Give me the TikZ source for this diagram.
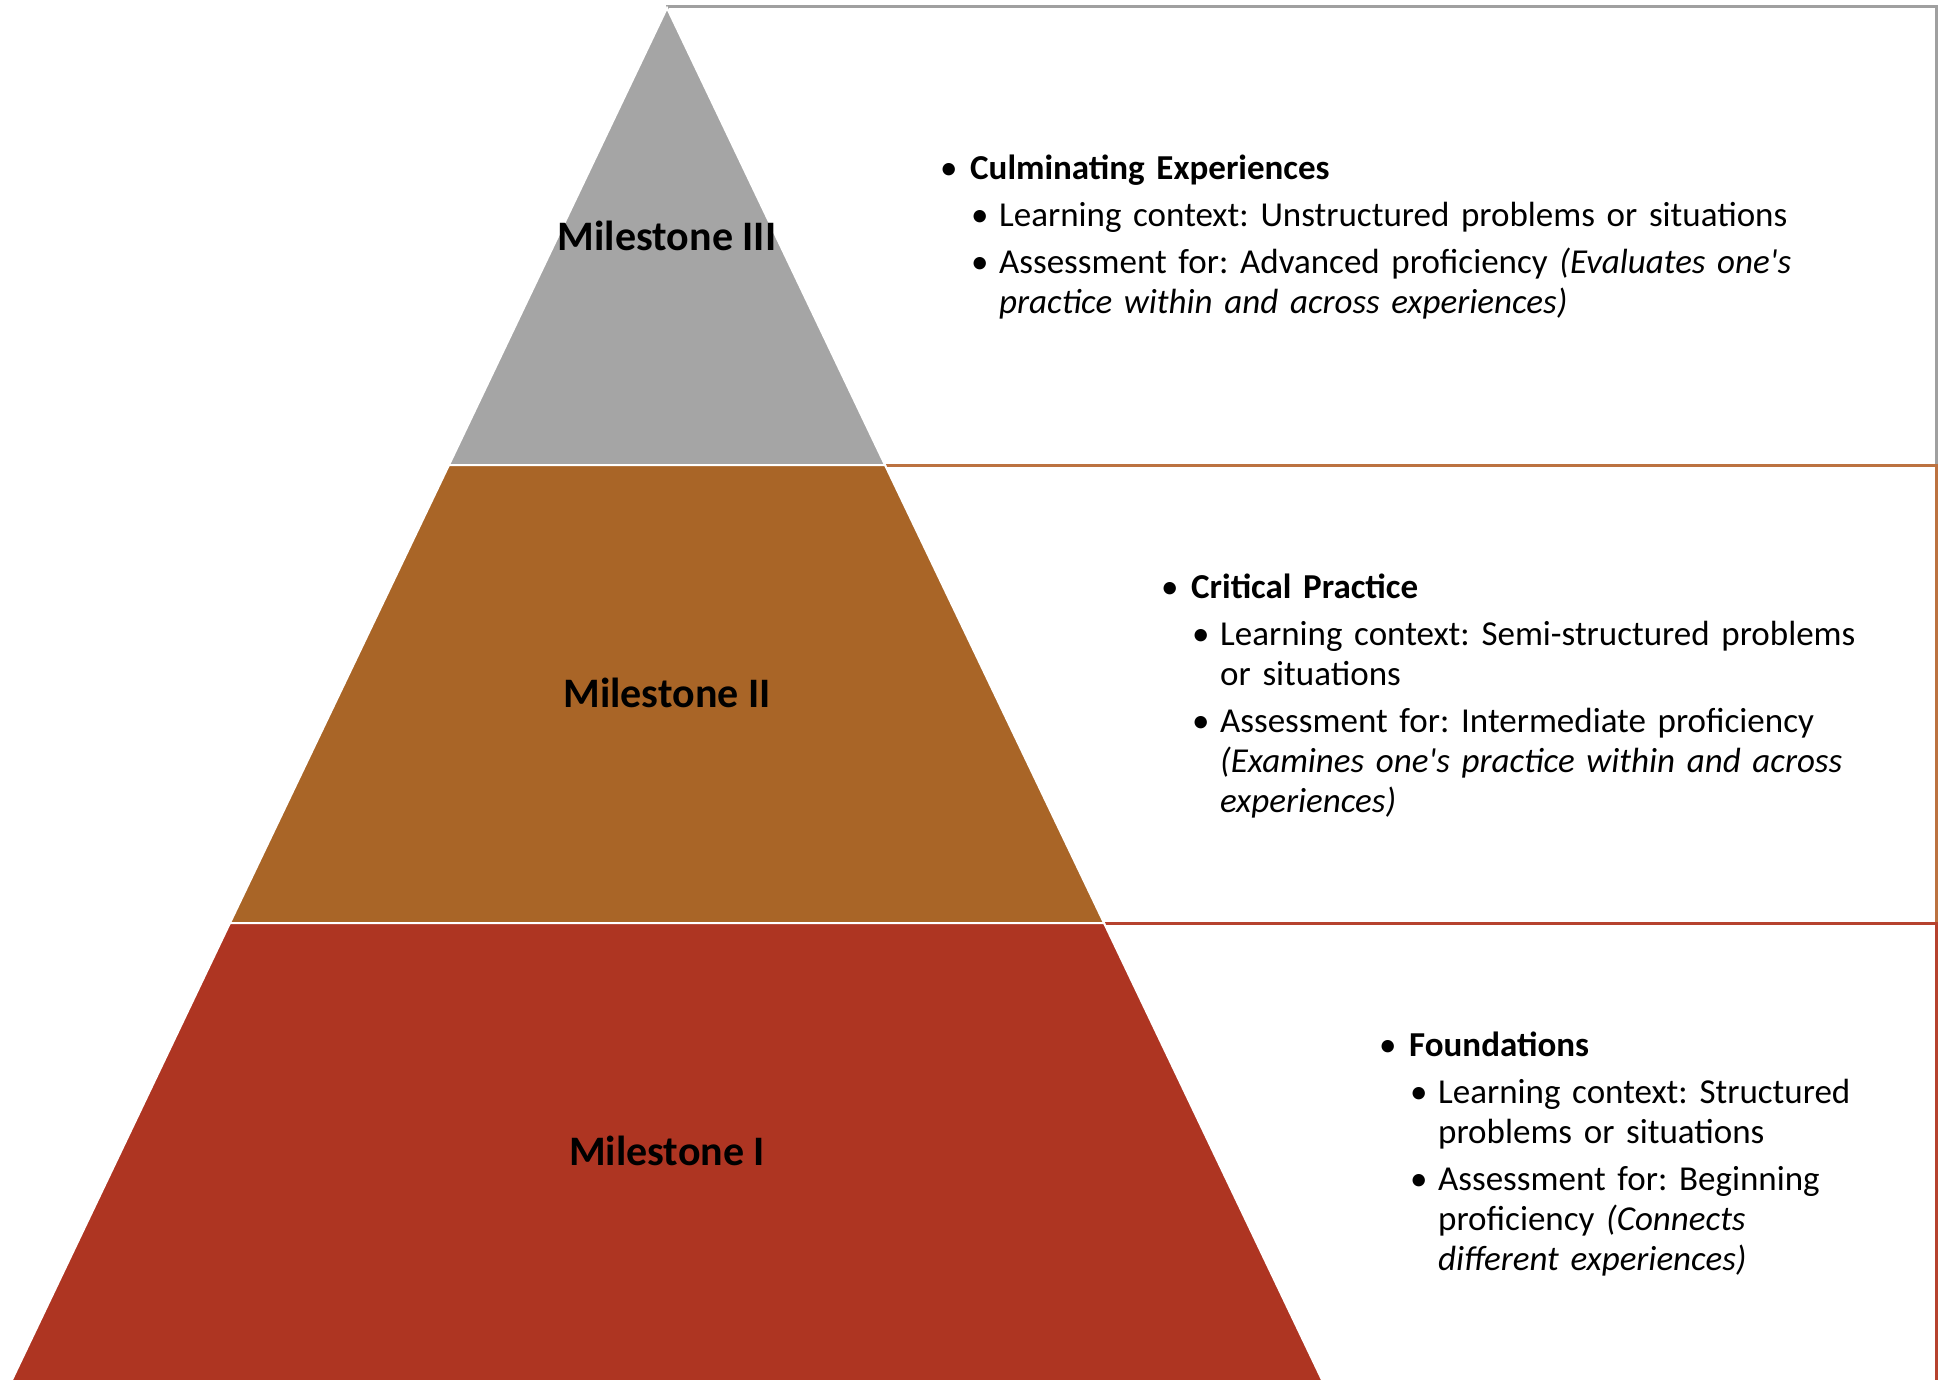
\documentclass[tikz,border=0pt]{standalone}
\usepackage{fontspec}
\setmainfont{Carlito}
\frenchspacing
\definecolor{tgray}{RGB}{165,165,165}
\definecolor{tbrown}{RGB}{169,101,39}
\definecolor{tred}{RGB}{174,53,34}
\definecolor{lgray}{RGB}{160,160,160}
\definecolor{lbrown}{RGB}{188,114,64}
\definecolor{lred}{RGB}{182,66,46}
\newcommand\itemA[1]{\par\hangindent=30pt\hangafter=1\noindent\makebox[30pt][l]{\textbullet}#1}
\newcommand\itemB[1]{\par\hangindent=59pt\hangafter=1\noindent\hspace*{31pt}\makebox[28pt][l]{\textbullet}#1\par}
\tikzset{
  tier/.style={draw=white, line width=2pt},
  panel/.style={fill=white, line width=3pt},
  mlabel/.style={font=\fontsize{42}{48}\selectfont\bfseries, inner sep=0pt},
  blockA/.style={anchor=base west, inner sep=0pt, text width=940pt, align=left,
    font=\fontsize{35}{40}\selectfont}
}
\begin{document}
\begin{tikzpicture}[x=1pt,y=-1pt]
\useasboundingbox (0,0) rectangle (1939,1380);
% panels
\draw[panel, draw=lgray] (667,7) rectangle (1936.5,465);
\draw[panel, draw=lbrown] (885,465) rectangle (1936.5,923);
\draw[panel, draw=lred] (1104,923) rectangle (1936.5,1420);
% tiers
\coordinate (apex) at (667,8);
\fill[tgray, tier] (apex) -- (885,465) -- (449,465) -- cycle;
\fill[tbrown, tier] (449,465) -- (885,465) -- (1104,923) -- (230,923) -- cycle;
\fill[tred, tier] (230,923) -- (1104,923) -- (1333,1403) -- (1,1403) -- cycle;
% labels
\node[mlabel] (m3) at (667,236) {Milestone III};
\node[mlabel] (m2) at (667,693) {Milestone II};
\node[mlabel] (m1) at (667,1151) {Milestone I};
% text blocks
\node[blockA] (t3) at (940,140) {%
\itemA{\textbf{Culminating Experiences}}\vspace{7pt}
\itemB{Learning context: Unstructured problems or situations}\vspace{7pt}
\itemB{Assessment for: Advanced proficiency \textit{(Evaluates one\textquotesingle s}\newline\textit{practice within and across experiences)}}};
\node[blockA] (t2) at (1161,558) {%
\itemA{\textbf{Critical Practice}}\vspace{7pt}
\itemB{Learning context: Semi-structured problems\newline or situations}\vspace{7pt}
\itemB{Assessment for: Intermediate proficiency\newline\textit{(Examines one\textquotesingle s practice within and across}\newline\textit{experiences)}}};
\node[blockA] (t1) at (1379,1016) {%
\itemA{\textbf{Foundations}}\vspace{7pt}
\itemB{Learning context: Structured\newline problems or situations}\vspace{7pt}
\itemB{Assessment for: Beginning\newline proficiency \textit{(Connects}\newline\textit{different experiences)}}};
\end{tikzpicture}
\end{document}
